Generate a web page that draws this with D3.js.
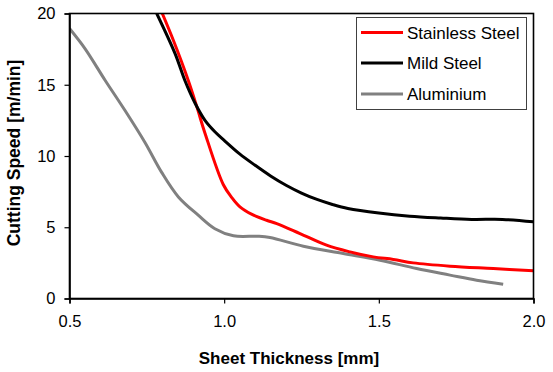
<!DOCTYPE html>
<html>
<head>
<meta charset="utf-8">
<script src="https://cdn.jsdelivr.net/npm/d3@7"></script>
<style>
  html, body { margin: 0; padding: 0; background: #fff; }
  svg { display: block; font-family: "Liberation Sans", Arial, sans-serif; }
</style>
</head>
<body>
<svg id="chart" width="553" height="372"></svg>
<script>
// ---- data ----
const stainlessX = [0.80, 0.836, 0.884, 0.911, 0.938, 0.997, 1.024, 1.051, 1.09, 1.137, 1.17, 1.245, 1.331, 1.407, 1.482, 1.547, 1.611, 1.73, 1.87, 2.0];
const stainlessY = [20, 18.1, 15.3, 13.5, 11.6, 8.0, 7.1, 6.43, 5.9, 5.49, 5.26, 4.56, 3.74, 3.27, 2.92, 2.74, 2.5, 2.27, 2.1, 1.94];
const mildX = [0.782, 0.841, 0.873, 0.906, 0.938, 0.97, 1.0, 1.05, 1.1, 1.15, 1.2, 1.25, 1.3, 1.35, 1.4, 1.5, 1.6, 1.7, 1.8, 1.9, 2.0];
const mildY = [20, 17.2, 15.3, 13.7, 12.5, 11.7, 11.1, 10.15, 9.35, 8.6, 7.95, 7.4, 6.95, 6.6, 6.32, 6.0, 5.78, 5.65, 5.55, 5.55, 5.38];
const aluX = [0.5, 0.55, 0.615, 0.679, 0.744, 0.798, 0.852, 0.916, 0.970, 1.03, 1.11, 1.148, 1.256, 1.385, 1.504, 1.622, 1.73, 1.816, 1.902];
const aluY = [18.95, 17.54, 15.32, 13.21, 10.95, 8.85, 7.13, 5.85, 4.9, 4.4, 4.37, 4.28, 3.67, 3.16, 2.69, 2.1, 1.64, 1.28, 1.0];
const seriesNames = ["Stainless Steel", "Mild Steel", "Aluminium"];
const seriesColors = ["#ff0000", "#000000", "#808080"];
const xTicks = [0.5, 1.0, 1.5, 2.0];
const yTicks = [0, 5, 10, 15, 20];
const xTitle = "Sheet Thickness [mm]";
const yTitle = "Cutting Speed [m/min]";

const series = [
  { name: seriesNames[0], color: seriesColors[0], pts: stainlessX.map((x, i) => [x, stainlessY[i]]) },
  { name: seriesNames[1], color: seriesColors[1], pts: mildX.map((x, i) => [x, mildY[i]]) },
  { name: seriesNames[2], color: seriesColors[2], pts: aluX.map((x, i) => [x, aluY[i]]) }
];

const svg = d3.select("#chart");
const x = d3.scaleLinear().domain([0.5, 2.0]).range([69.5, 533.5]);
const y = d3.scaleLinear().domain([0, 20]).range([298.5, 13.5]);

// clip
svg.append("clipPath").attr("id", "clip").append("rect")
  .attr("x", x(0.5)).attr("y", y(20)).attr("width", x(2.0) - x(0.5)).attr("height", y(0) - y(20));

// lines
const line = d3.line().x(d => x(d[0])).y(d => y(d[1])).curve(d3.curveCatmullRom.alpha(0.5));
const gLines = svg.append("g").attr("clip-path", "url(#clip)");
[series[2], series[0], series[1]].forEach(s => {
  gLines.append("path").datum(s.pts)
    .attr("d", line).attr("fill", "none")
    .attr("stroke", s.color).attr("stroke-width", 3)
    .attr("stroke-linejoin", "round").attr("stroke-linecap", "butt");
});

// frame
svg.append("rect")
  .attr("x", x(0.5)).attr("y", y(20)).attr("width", x(2.0) - x(0.5)).attr("height", y(0) - y(20))
  .attr("fill", "none").attr("stroke", "#000").attr("stroke-width", 1.6);

// axes
const yAxis = svg.append("g").attr("transform", `translate(${x(0.5)},0)`)
  .call(d3.axisLeft(y).tickValues(yTicks).tickSize(5).tickPadding(9));
const xAxis = svg.append("g").attr("transform", `translate(0,${y(0)})`)
  .call(d3.axisBottom(x).tickValues(xTicks).tickFormat(d3.format(".1f")).tickSize(5).tickPadding(12));
[yAxis, xAxis].forEach(g => {
  g.select(".domain").attr("stroke", "#000").attr("stroke-width", 1.6);
  g.selectAll(".tick line").attr("stroke", "#000").attr("stroke-width", 1.2);
  g.selectAll(".tick text").attr("fill", "#000").style("font-size", "16.5px")
    .style("font-family", "'Liberation Sans', Arial, sans-serif");
});

// axis titles
svg.append("text").attr("x", 289).attr("y", 364).attr("text-anchor", "middle")
  .style("font-size", "17px").style("font-weight", "bold").attr("fill", "#000").text(xTitle);
svg.append("text").attr("transform", "translate(20,153) rotate(-90)").attr("text-anchor", "middle")
  .style("font-size", "17.5px").style("font-weight", "bold").attr("fill", "#000").text(yTitle);

// legend
const lg = svg.append("g");
lg.append("rect").attr("x", 356.5).attr("y", 17.5).attr("width", 170).attr("height", 92)
  .attr("fill", "#fff").attr("stroke", "#404040").attr("stroke-width", 1);
const rowsY = [32.5, 63, 94];
series.forEach((s, i) => {
  lg.append("line").attr("x1", 361).attr("x2", 403).attr("y1", rowsY[i]).attr("y2", rowsY[i])
    .attr("stroke", s.color).attr("stroke-width", 3);
  lg.append("text").attr("x", 407).attr("y", rowsY[i]).attr("dy", "0.36em")
    .style("font-size", "17px").attr("fill", "#000").text(s.name);
});
</script>
</body>
</html>
